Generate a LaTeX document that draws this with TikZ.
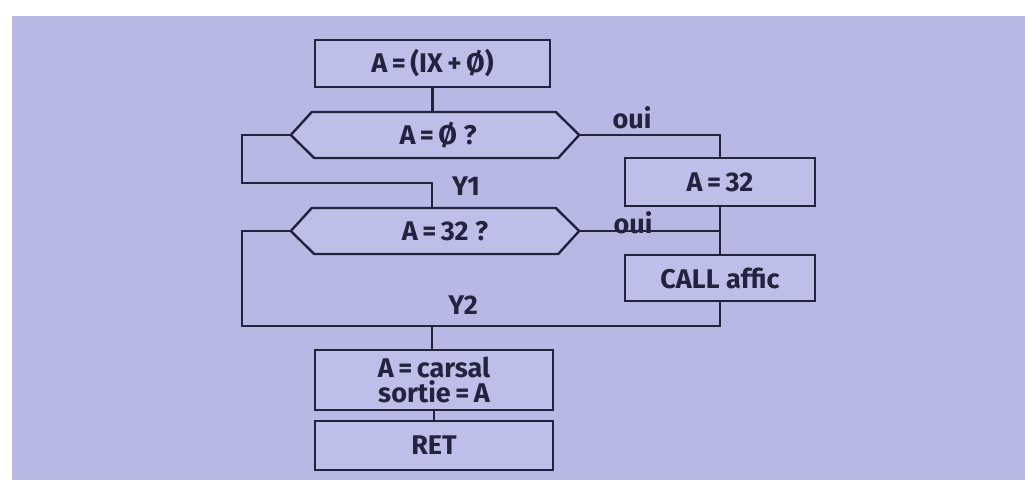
\documentclass[tikz,border=0pt]{standalone}
\usepackage{fontspec}
\setmainfont{Fira Sans}
\definecolor{lav}{HTML}{B9B8E4}
\definecolor{boxfill}{HTML}{BFBEE8}
\definecolor{ink}{HTML}{24233F}
\begin{document}
\begin{tikzpicture}[x=1pt,y=-1pt,
  line width=2.4pt,
  every node/.style={text=ink,font=\fontsize{27}{28}\selectfont\bfseries},
  procbox/.style={draw=ink,fill=boxfill,rectangle,inner sep=0pt},
  hexbox/.style={rectangle,inner sep=0pt,minimum width=286pt,minimum height=46pt},
  lbl/.style={inner sep=0pt},
  wire/.style={draw=ink,line width=2.4pt}]
\useasboundingbox (0,0) rectangle (1025,480);
\fill[white] (0,0) rectangle (1025,480);
\fill[lav] (12,16) rectangle (1025,480);
% process boxes
\node[procbox,minimum width=235pt,minimum height=47pt] (b1) at (432.5,63.5) {A\,=\,(IX\,+\,Ø)};
\node[procbox,minimum width=190pt,minimum height=48pt] (b32) at (720,182) {A\,=\,32};
\node[procbox,minimum width=190pt,minimum height=46pt] (call) at (720,278) {CALL affic};
\node[procbox,minimum width=238pt,minimum height=60pt,align=center,
      font=\fontsize{27}{25}\selectfont\bfseries] (b4) at (434,380) {A\,=\,carsal\\sortie\,=\,A};
\node[procbox,minimum width=238pt,minimum height=49pt] (ret) at (434,445.5) {RET};
% hexagonal decisions
\node[hexbox] (h1) at (435,135) {};
\node[hexbox] (h2) at (435,231) {};
\fill[boxfill] (h1.west) -- ++(21,-23) -- ++(244,0) -- (h1.east) -- ++(-21,23) -- ++(-244,0) -- cycle;
\draw[wire,line join=miter] (h1.west) -- ++(21,-23) -- ++(244,0) -- (h1.east) -- ++(-21,23) -- ++(-244,0) -- cycle;
\fill[boxfill] (h2.west) -- ++(21,-23) -- ++(244,0) -- (h2.east) -- ++(-21,23) -- ++(-244,0) -- cycle;
\draw[wire,line join=miter] (h2.west) -- ++(21,-23) -- ++(244,0) -- (h2.east) -- ++(-21,23) -- ++(-244,0) -- cycle;
\node[lbl] (t1) at (438,135) {A\,=\,Ø ?};
\node[lbl] (t2) at (445,231) {A\,=\,32 ?};
% routing coordinates
\coordinate (l1a) at (242,135);
\coordinate (l1b) at (242,183);
\coordinate (l1c) at (432,183);
\coordinate (r1) at (720,135);
\coordinate (r2) at (720,231);
\coordinate (l2a) at (242,231);
\coordinate (l2b) at (242,326);
\coordinate (l2c) at (720,326);
\coordinate (m2) at (432,326);
% connectors
\draw[wire] (b1.south) -- (b1.south |- h1.north);
\draw[wire] (h1.west) -- (l1a) -- (l1b) -- (l1c) -- (l1c |- h2.north);
\draw[wire] (h1.east) -- (r1) -- (b32.north);
\draw[wire] (b32.south) -- (call.north);
\draw[wire] (h2.east) -- (r2);
\draw[wire] (h2.west) -- (l2a) -- (l2b) -- (l2c) -- (call.south);
\draw[wire] (m2) -- (m2 |- b4.north);
\draw[wire] (b4.south) -- (ret.north);
% labels
\node[lbl] (oui1) at (632,118) {oui};
\node[lbl] (oui2) at (633,223) {oui};
\node[lbl] (y1) at (466,186) {Y1};
\node[lbl] (y2) at (463,305) {Y2};
\end{tikzpicture}
\end{document}
